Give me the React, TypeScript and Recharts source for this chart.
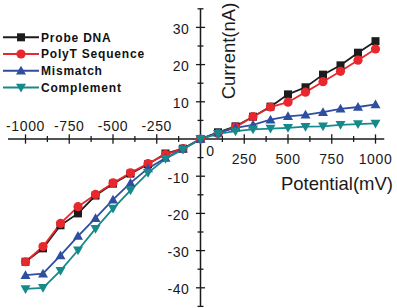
import React from 'react';
import { LineChart, Line, XAxis, YAxis, ReferenceLine, ReferenceDot, Legend } from 'recharts';

const potential = [-1000, -900, -800, -700, -600, -500, -400, -300, -200, -100, 0, 100, 200, 300, 400, 500, 600, 700, 800, 900, 1000];
const probeDNA = [-33.0, -29.4, -23.2, -20.0, -15.2, -12.0, -9.3, -6.8, -3.9, -2.6, 0, 1.8, 3.4, 6.0, 8.7, 12.0, 13.9, 17.3, 19.8, 23.2, 26.3];
const polyT = [-33.0, -28.9, -22.7, -18.2, -14.9, -11.8, -9.1, -6.6, -4.2, -2.6, 0, 1.5, 3.2, 6.0, 8.6, 9.9, 12.6, 15.4, 18.2, 21.2, 24.2];
const mismatch = [-36.6, -36.2, -31.3, -26.1, -21.3, -16.3, -11.8, -7.9, -5.1, -2.6, 0, 1.7, 3.0, 3.8, 5.2, 6.1, 6.5, 7.2, 8.1, 8.6, 9.3];
const complement = [-40.3, -40.0, -35.4, -29.9, -24.1, -18.7, -13.8, -9.1, -5.3, -2.8, 0, 1.4, 2.1, 2.6, 2.8, 3.0, 3.3, 3.4, 3.8, 4.0, 4.2];

const seriesNames = ['Probe DNA', 'PolyT Sequence', 'Mismatch', 'Complement'];
const seriesKeys = ['probe', 'polyT', 'mismatch', 'complement'];
const seriesColors = ['#1c1c1c', '#e8282c', '#2f4ea0', '#168a8a'];
const seriesShapes = ['square', 'circle', 'triangleUp', 'triangleDown'];

const xTicks = [-1000, -875, -750, -625, -500, -375, -250, -125, 125, 250, 375, 500, 625, 750, 875, 1000];
const xTickLabelsNeg = [-1000, -750, -500, -250];
const xTickLabelsPos = [250, 500, 750, 1000];
const yTicks = [-45, -40, -35, -30, -25, -20, -15, -10, -5, 5, 10, 15, 20, 25, 30, 35];
const yTickLabels = [-40, -30, -20, -10, 10, 20, 30];

const seriesValues = [probeDNA, polyT, mismatch, complement];
const data = potential.map((p, i) => {
  const row: any = { potential: p };
  seriesKeys.forEach((k, s) => { row[k] = seriesValues[s][i]; });
  return row;
});

const FONT = '"Liberation Sans", Arial, sans-serif';

function Marker({ shape, cx, cy, color, size = 1 }: any) {
  if (cx == null || cy == null) return null;
  if (shape === 'square') {
    const h = 4 * size;
    return <rect x={cx - h} y={cy - h} width={2 * h} height={2 * h} fill={color} />;
  }
  if (shape === 'circle') {
    return <circle cx={cx} cy={cy} r={4.6 * size} fill={color} />;
  }
  if (shape === 'triangleUp') {
    const s = 5 * size;
    return <polygon points={`${cx},${cy - s} ${cx + s},${cy + s * 0.75} ${cx - s},${cy + s * 0.75}`} fill={color} />;
  }
  const s = 5 * size;
  return <polygon points={`${cx},${cy + s} ${cx + s},${cy - s * 0.75} ${cx - s},${cy - s * 0.75}`} fill={color} />;
}

const LegendContent = () => (
  <svg width={170} height={72} style={{ display: 'block', overflow: 'visible' }}>
    {seriesNames.map((name, i) => {
      const y = 9.3 + i * 16.7;
      return (
        <g key={name}>
          <line x1={3} x2={39} y1={y} y2={y} stroke={seriesColors[i]} strokeWidth={2} />
          <Marker shape={seriesShapes[i]} cx={21} cy={y} color={seriesColors[i]} />
          <text x={41} y={y + 4.3} fontFamily={FONT} fontSize={12} fontWeight="bold" letterSpacing={0.8} fill="#111">{name}</text>
        </g>
      );
    })}
  </svg>
);

const tickStyle = { fontFamily: FONT, fontSize: 14, fill: '#1a1a1a', letterSpacing: 0.6 };

export default function App() {
  return (
    <div style={{ position: 'absolute', left: 0, top: 0, width: 397, height: 308, background: '#fff', overflow: 'hidden' }}>
      <LineChart width={397} height={308} data={data} margin={{ top: 8.8, right: 12.75, bottom: 1.6, left: 8 }}>
        <XAxis dataKey="potential" type="number" domain={[-1100, 1050]} hide />
        <YAxis type="number" domain={[-45, 35]} hide />
        <ReferenceLine x={0} stroke="#1a1a1a" strokeWidth={1.5} />
        <ReferenceLine y={0} stroke="#1a1a1a" strokeWidth={1.5} />
        {xTicks.map((t) => {
          const half = t % 250 === 0 ? 1.25 : 0.8;
          return <ReferenceLine key={`xt${t}`} segment={[{ x: t, y: -half }, { x: t, y: half }]} stroke="#1a1a1a" strokeWidth={1.3} />;
        })}
        {yTicks.map((v) => {
          const half = v % 10 === 0 ? 26 : 17;
          return <ReferenceLine key={`yt${v}`} segment={[{ x: -half, y: v }, { x: half, y: v }]} stroke="#1a1a1a" strokeWidth={1.3} />;
        })}
        {xTickLabelsNeg.map((t) => (
          <ReferenceDot key={`xl${t}`} x={t} y={0} r={0} shape={(p: any) => (
            <text x={p.cx} y={p.cy - 13.5} textAnchor="middle" dominantBaseline="central" style={tickStyle}>{t}</text>
          )} />
        ))}
        {xTickLabelsPos.map((t) => (
          <ReferenceDot key={`xl${t}`} x={t} y={0} r={0} shape={(p: any) => (
            <text x={p.cx} y={p.cy + 20} textAnchor="middle" dominantBaseline="central" style={tickStyle}>{t}</text>
          )} />
        ))}
        <ReferenceDot x={0} y={0} r={0} shape={(p: any) => (
          <text x={p.cx + 10} y={p.cy + 12} textAnchor="middle" dominantBaseline="central" style={tickStyle}>0</text>
        )} />
        {yTickLabels.map((v) => (
          <ReferenceDot key={`yl${v}`} x={0} y={v} r={0} shape={(p: any) => (
            <text x={p.cx - 11} y={p.cy + 1.5} textAnchor="end" dominantBaseline="central" style={tickStyle}>{v}</text>
          )} />
        ))}
        {seriesKeys.map((k, i) => (
          <Line
            key={k}
            dataKey={k}
            name={seriesNames[i]}
            stroke={seriesColors[i]}
            strokeWidth={1.8}
            isAnimationActive={false}
            dot={(p: any) => <Marker key={`${k}-${p.index}`} shape={seriesShapes[i]} cx={p.cx} cy={p.cy} color={seriesColors[i]} />}
            activeDot={false}
          />
        ))}
        <Legend
          layout="vertical"
          align="center"
          verticalAlign="middle"
          content={LegendContent}
          wrapperStyle={{ position: 'absolute', top: 28, left: 0, width: 170, height: 72 }}
        />
      </LineChart>
      <div style={{ position: 'absolute', left: 229, top: 50.5, transform: 'translate(-50%, -50%) rotate(-90deg)', fontFamily: FONT, fontSize: 18.5, color: '#1a1a1a', whiteSpace: 'nowrap', lineHeight: 1 }}>Current(nA)</div>
      <div style={{ position: 'absolute', right: 4, top: 175, fontFamily: FONT, fontSize: 18.5, color: '#1a1a1a', whiteSpace: 'nowrap', lineHeight: 1 }}>Potential(mV)</div>
    </div>
  );
}
